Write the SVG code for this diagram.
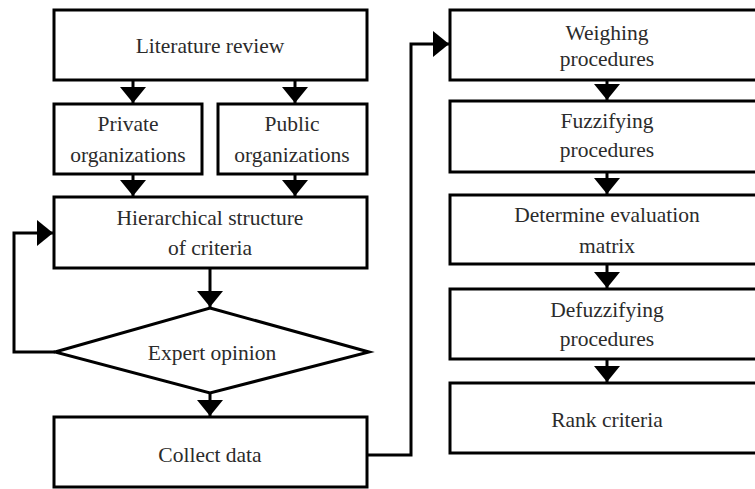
<svg xmlns="http://www.w3.org/2000/svg" width="755" height="489" viewBox="0 0 755 489">
<defs>
<marker id="arr" markerUnits="userSpaceOnUse" markerWidth="17" markerHeight="27" refX="16" refY="13" orient="auto">
<path d="M0,0 L16,13 L0,26 Z" fill="#000"/>
</marker>
<style>
.box{fill:#fff;stroke:#000;stroke-width:3}
.t{font-family:'Liberation Serif','Times New Roman',serif;font-size:21.5px;fill:#2b2b2b;text-anchor:middle}
.c{fill:none;stroke:#000;stroke-width:3;marker-end:url(#arr)}
</style>
</defs>
<rect width="755" height="489" fill="#fff"/>
<g id="lit"><rect class="box" x="54" y="10" width="313" height="70"/><text class="t" x="210" y="53">Literature review</text></g>
<g id="private"><rect class="box" x="54" y="104" width="148" height="70"/><text class="t" x="128" y="131">Private</text><text class="t" x="128" y="162">organizations</text></g>
<g id="public"><rect class="box" x="218" y="104" width="149" height="70"/><text class="t" x="292" y="131">Public</text><text class="t" x="292" y="162">organizations</text></g>
<g id="hier"><rect class="box" x="54" y="197" width="313" height="71"/><text class="t" x="210" y="225">Hierarchical structure</text><text class="t" x="210" y="255">of criteria</text></g>
<g id="expert"><polygon class="box" points="210,308 369,352 210,393 55,352"/><text class="t" x="212" y="360">Expert opinion</text></g>
<g id="collect"><rect class="box" x="54" y="417" width="313" height="70"/><text class="t" x="210" y="462">Collect data</text></g>
<g id="weigh"><rect class="box" x="450" y="10" width="315" height="70"/><text class="t" x="607" y="40">Weighing</text><text class="t" x="607" y="66">procedures</text></g>
<g id="fuzz"><rect class="box" x="450" y="101" width="315" height="71"/><text class="t" x="607" y="128">Fuzzifying</text><text class="t" x="607" y="157">procedures</text></g>
<g id="determine"><rect class="box" x="450" y="195" width="315" height="69"/><text class="t" x="607" y="222">Determine evaluation</text><text class="t" x="607" y="253">matrix</text></g>
<g id="defuzz"><rect class="box" x="450" y="289" width="315" height="70"/><text class="t" x="607" y="317">Defuzzifying</text><text class="t" x="607" y="346">procedures</text></g>
<g id="rank"><rect class="box" x="450" y="383" width="315" height="70"/><text class="t" x="607" y="427">Rank criteria</text></g>
<g id="connectors">
<path class="c" d="M133,80 V103"/>
<path class="c" d="M295,80 V103"/>
<path class="c" d="M133,174 V196"/>
<path class="c" d="M295,174 V196"/>
<path class="c" d="M210,268 V307"/>
<path class="c" d="M210,393 V416"/>
<path class="c" d="M55,352 H14 V233 H53"/>
<path class="c" d="M367,455 H411 V44 H449"/>
<path class="c" d="M607,80 V100"/>
<path class="c" d="M607,172 V194"/>
<path class="c" d="M607,264 V288"/>
<path class="c" d="M607,359 V382"/>
</g>
</svg>
